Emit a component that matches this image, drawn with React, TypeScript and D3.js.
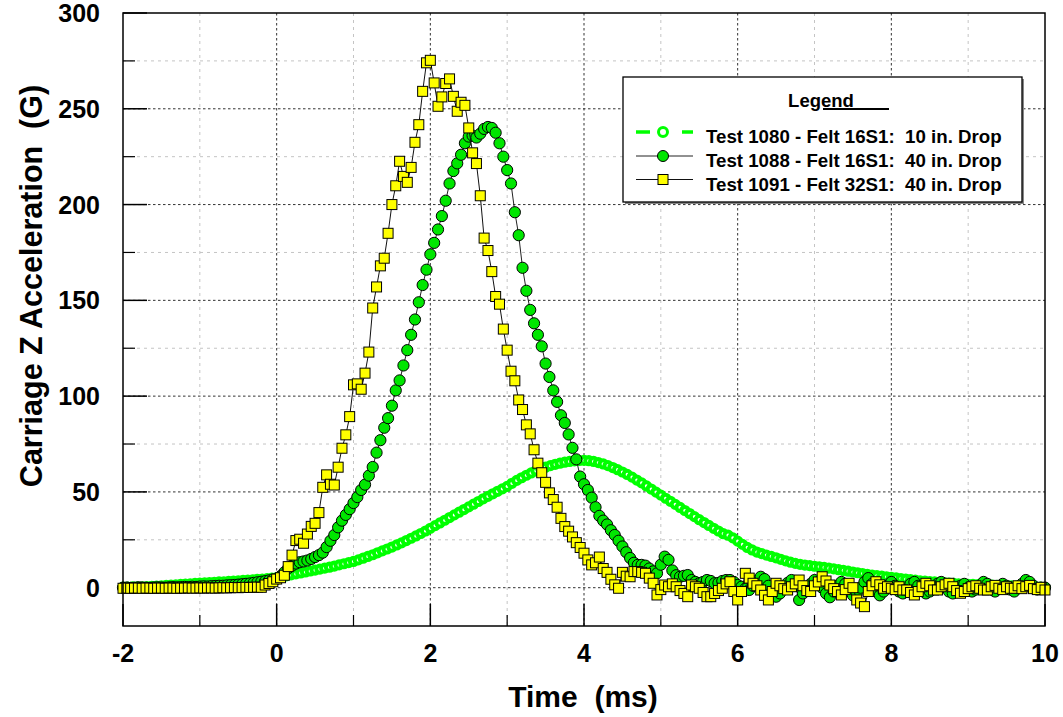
import React from 'react';
import * as d3 from 'd3';

// ---- Data ----
const xTicks = [-2, 0, 2, 4, 6, 8, 10];
const yTicks = [0, 50, 100, 150, 200, 250, 300];
const xMinorTicks = [-1, 1, 3, 5, 7, 9];
const yMinorTicks = [25, 75, 125, 175, 225, 275];

const T_START = -2;
const DT_1080 = 0.0625; // ms per sample, Test 1080
const DT_40IN = 0.05; // ms per sample, Tests 1088 / 1091

const labels = [
  'Test 1080 - Felt 16S1:  10 in. Drop',
  'Test 1088 - Felt 16S1:  40 in. Drop',
  'Test 1091 - Felt 32S1:  40 in. Drop',
];

const test1080 = [
  0.3, 0.3, 0.4, 0.4, 0.5, 0.6, 0.7, 0.8, 1.0, 1.2, 1.3, 1.5, 1.7, 1.9, 2.0, 2.2, 2.4,
  2.5, 2.7, 2.8, 3.0, 3.1, 3.3, 3.4, 3.6, 3.8, 3.9, 4.1, 4.3, 4.5, 4.7, 5.0, 5.3,
  5.7, 6.2, 6.7, 7.2, 7.7, 8.2, 8.7, 9.2, 9.7, 10.2, 10.7, 11.3, 11.9, 12.5, 13.1, 13.7,
  14.5, 15.4, 16.3, 17.2, 18.2, 19.2, 20.2, 21.2, 22.3, 23.4, 24.6, 25.8, 27.0, 28.3, 29.6, 31.0,
  32.4, 33.8, 35.2, 36.6, 38.0, 39.4, 40.8, 42.2, 43.6, 45.0, 46.4, 47.7, 49.0, 50.3, 51.6, 52.9,
  54.5, 56.0, 57.4, 58.7, 59.9, 61.0, 62.0, 62.9, 63.7, 64.4, 65.0, 65.5, 65.9, 66.2, 66.4, 66.5,
  66.3, 65.9, 65.3, 64.6, 63.7, 62.7, 61.6, 60.4, 59.1, 57.7, 56.2, 54.7, 53.1, 51.5, 49.9, 48.3,
  46.7, 45.1, 43.5, 41.9, 40.3, 38.7, 37.1, 35.5, 34.0, 32.5, 31.0, 29.6, 28.2, 27.4, 26.0, 24.3,
  22.6, 21.0, 19.7, 18.6, 17.8, 17.0, 16.3, 15.6, 14.8, 14.0, 13.3, 12.7, 12.2, 11.8, 11.5, 11.2,
  10.9, 10.6, 10.2, 9.8, 9.4, 9.0, 8.6, 8.2, 7.8, 7.4, 7.0, 6.6, 6.3, 6.0, 5.7, 5.4,
  5.1, 4.8, 4.5, 4.2, 3.9, 3.6, 3.4, 3.2, 3.0, 2.8, 2.6, 2.4, 2.2, 2.0, 1.9, 1.8,
  1.7, 1.6, 1.5, 1.4, 1.3, 1.2, 1.1, 1.0, 0.9, 0.8, 0.7, 0.6, 0.5, 0.4, 0.3, 0.2,
];

const test1088 = [
  0.0, 0.1, -0.1, 0.0, 0.2, 0.1, 0.0, -0.1, 0.1, 0.2, 0.1, 0.0, 0.2, 0.3, 0.2, 0.3, 0.4, 0.3, 0.5, 0.4,
  0.6, 0.7, 0.6, 0.8, 0.9, 1.0, 1.0, 1.2, 1.3, 1.4,
  1.6, 1.8, 2.0, 2.2, 2.5, 2.8, 3.1, 3.4, 3.8, 4.2,
  4.6, 6.0, 8.0, 10.2, 11.5, 12.6, 13.3, 13.7, 14.2, 15.0, 16.0, 17.0, 18.3, 21.2, 24.5, 27.5, 31.5,
  35.0, 38.0, 41.0, 44.2, 47.3, 51.0, 53.8, 58.5, 63.0, 70.5, 77.0, 83.5, 88.5, 95.0, 103.0, 108.2,
  116, 124, 132, 140, 149, 158, 166, 174, 180, 187, 194, 202, 211, 217.5, 221.5, 226, 232, 235.5,
  236, 235, 237, 239.5, 240.5, 240, 237.5, 232, 225, 218,
  211, 196, 184, 167, 155, 145, 138, 132, 126, 117, 110, 103, 97, 90, 86, 80, 73, 67, 58, 54,
  51, 47, 42, 37.5, 35, 33, 30, 27.5, 24.5, 21.5, 18.5, 15.5, 13, 11.9, 11.9, 11.5, 10, 8.5, 7.5, 12,
  16.2, 14.5, 9, 6.5, 5.7, 6.2, 6.6, 4, 3, 2.3, 3, 4, 3.5, 2.3, 2.5, 3.5, 4, 4, 3, 1.4,
  0.5, -0.5, -1.2, 1, 3.5, 5.7, 4.5, 1, -2, -4.7, -3, 0, 2.5, 4, 1, -6.4, -3,
  -1, 2, 4, 3, 0, -3, -5, -2, 1, 3, 2, -1, -4, -3, 0, 3, 5, 2, -2, -4,
  -2, 1, 3, 1, -2, -3, -1, 2, 3, 1, -1, -3, -2, 0, 2, 3, 1, -2, -3, -1,
  1, 2, 0, -2, -1, 1, 3, 2, -1, -2, 0, 2, 1, -1, -2, 0, 2, 4, 3, 1,
  -1, 0, 0,
];

const test1091 = [
  -0.3, -0.2, -0.3, -0.2, -0.2, -0.3, -0.2, -0.2, -0.3, -0.2,
  -0.2, -0.3, -0.2, -0.2, -0.3, -0.2, -0.2, -0.1, -0.2, -0.2,
  -0.1, -0.2, -0.1, -0.1, -0.2, -0.1, 0.0, -0.1, 0.0, 0.1,
  0.0, 0.1, 0.2, 0.1, 0.2, 0.3,
  0.2, 1.4, 2.2, 3.1, 4.5, 5.2, 6.5, 11, 17, 24.6, 25.3, 23.2, 28, 32, 33.6,
  39.2, 52.4, 58.9, 54, 53.6, 62.9, 72.8, 79.8, 89.3, 105.9, 106.4, 103.6, 112, 123, 146,
  157, 168, 172, 185, 200, 209.8, 222.6, 214.7, 211.6, 219.4, 232.5, 241.7, 259.1, 274, 275.3,
  263.5, 251.3, 256.2, 263.2, 265.6, 256.5, 248.7, 253.4, 251.8, 240, 227, 221.4, 204.6, 182.5,
  176, 165, 152, 148, 135, 124, 113, 108, 98, 93, 85, 80.3, 72, 65, 60, 55, 49.5, 46, 42, 36.2,
  31.9, 29.5, 26.5, 23.5, 21, 18, 14.5, 11.9, 13, 16, 10, 8, 4.4, 1.5, -0.3, 8, 6, 5.7, 8.4, 8.4,
  8, 7.5, 5, 2.3, -3.8, -1,
  1.4, 0.5, 2, 0.5, -1.5, -3, -4.7, 1.4, 0.5, -0.3,
  -2.5, -4.7, -4.7, -3, -1.5, -0.3, 2, 3.1, -2, -6.4,
  -2, 7.5, 5, 2.3, 1, -1.2, -4, -6.4, -2, 2.3,
  1, -0.5, -1.2, 0.5, 2, 4, 1, -1.5, -2, 1,
  3, 5.7, 3.5, 1.4, -0.5, -2, -3.8, -1, 2.3, 0,
  -6.4, -8, -9.9, -2, 1, 3.1, 1.5, -0.3, 0.5, -0.3,
  -1, 0.5, -1.2, -1.2, -2.5, -3.8, -2, 0.5, 2.3, 1,
  -1.2, -1.2, 0.5, 1.5, 2.3, 0.5, -1.5, -2.9, -2, -0.5,
  0.5, 1, -0.3, -1.2, -1.2, 0.5, 1.2, -0.3, -1, 0.5,
  -0.3, -0.3, 1, -0.5, 0.5, 1.2, -0.5, -1, 0.2, -1.2,
];

type Pt = { t: number; v: number };
const toPts = (vals: number[], dt: number): Pt[] =>
  vals.map((v, i) => ({ t: T_START + i * dt, v }));

const FONT = '"Liberation Sans", Arial, Helvetica, sans-serif';

export default function App() {
  const W = 1063;
  const H = 717;
  const L = 123, R = 1045, T = 13, B = 626;
  const x = d3.scaleLinear().domain([-2, 10]).range([L, R]);
  const y = d3.scaleLinear().domain([-20, 300]).range([B, T]);

  const p1080 = toPts(test1080, DT_1080);
  const p1088 = toPts(test1088, DT_40IN);
  const p1091 = toPts(test1091, DT_40IN);

  const line = d3
    .line<Pt>()
    .x((d) => x(d.t))
    .y((d) => y(d.v));

  const darkGrid = { stroke: '#333', strokeWidth: 1, strokeDasharray: '2.5,2.5' };
  const lightGrid = { stroke: '#c4c4c4', strokeWidth: 1, strokeDasharray: '3,4' };

  const majorXGrid = xTicks.filter((v) => v > -2 && v < 10);
  const majorYGrid = yTicks.filter((v) => v < 300);

  // legend geometry
  const lgX0 = 623, lgY0 = 77, lgX1 = 1022, lgY1 = 202;
  const rowY = [132, 156, 179.5];
  const sx0 = 636, sx1 = 693, smx = 663, tx = 706;

  return (
    <svg
      width={W}
      height={H}
      style={{ position: 'absolute', left: 0, top: 0, background: '#fff' }}
      fontFamily={FONT}
    >
      <rect x={0} y={0} width={W} height={H} fill="#fff" />
      {/* grid */}
      {xMinorTicks.map((v) => (
        <line key={'gx' + v} x1={x(v)} x2={x(v)} y1={T} y2={B} {...lightGrid} />
      ))}
      {yMinorTicks.map((v) => (
        <line key={'gy' + v} x1={L} x2={R} y1={y(v)} y2={y(v)} {...lightGrid} />
      ))}
      {majorXGrid.map((v) => (
        <line key={'GX' + v} x1={x(v)} x2={x(v)} y1={T} y2={B} {...darkGrid} />
      ))}
      {majorYGrid.map((v) => (
        <line key={'GY' + v} x1={L} x2={R} y1={y(v)} y2={y(v)} {...darkGrid} />
      ))}

      {/* ticks */}
      {yTicks.map((v) => (
        <line key={'ty' + v} x1={L} x2={L + 24} y1={y(v)} y2={y(v)} stroke="#000" strokeWidth={1.5} />
      ))}
      {yMinorTicks.map((v) => (
        <line key={'tym' + v} x1={L} x2={L + 12} y1={y(v)} y2={y(v)} stroke="#000" strokeWidth={1.2} />
      ))}
      {xTicks.map((v) => (
        <line key={'tx' + v} x1={x(v)} x2={x(v)} y1={B} y2={B - 22} stroke="#000" strokeWidth={1.5} />
      ))}
      {xMinorTicks.map((v) => (
        <line key={'txm' + v} x1={x(v)} x2={x(v)} y1={B} y2={B - 11} stroke="#000" strokeWidth={1.2} />
      ))}

      {/* Test 1080 */}
      <path d={line(p1080) || ''} fill="none" stroke="#00ff00" strokeWidth={3.5} strokeDasharray="12,6" />
      {p1080.map((d, i) => (
        <circle key={'a' + i} cx={x(d.t)} cy={y(d.v)} r={3.6} fill="#fff" stroke="#00ff00" strokeWidth={4} />
      ))}

      {/* Test 1088 */}
      <path d={line(p1088) || ''} fill="none" stroke="#222" strokeWidth={1} />
      {p1088.map((d, i) => (
        <circle key={'b' + i} cx={x(d.t)} cy={y(d.v)} r={5.6} fill="#00e600" stroke="#000" strokeWidth={1} />
      ))}

      {/* Test 1091 */}
      <path d={line(p1091) || ''} fill="none" stroke="#111" strokeWidth={1} />
      {p1091.map((d, i) => (
        <rect
          key={'c' + i}
          x={x(d.t) - 5}
          y={y(d.v) - 5}
          width={10}
          height={10}
          fill="#ffff00"
          stroke="#000"
          strokeWidth={1}
        />
      ))}

      {/* frame */}
      <rect x={L} y={T} width={R - L} height={B - T} fill="none" stroke="#000" strokeWidth={1.5} />

      {/* tick labels */}
      {yTicks.map((v) => (
        <text
          key={'ly' + v}
          x={100}
          y={y(v) + 9}
          textAnchor="end"
          fontSize={25}
          fontWeight="bold"
        >
          {v}
        </text>
      ))}
      {xTicks.map((v) => (
        <text key={'lx' + v} x={x(v)} y={662} textAnchor="middle" fontSize={25} fontWeight="bold">
          {v}
        </text>
      ))}

      {/* axis titles */}
      <text x={583} y={707} textAnchor="middle" fontSize={30} fontWeight="bold" style={{ whiteSpace: 'pre' }}>
        {'Time  (ms)'}
      </text>
      <text
        transform="translate(42,286) rotate(-90)"
        textAnchor="middle"
        fontSize={30.5}
        fontWeight="bold"
        style={{ whiteSpace: 'pre' }}
      >
        {'Carriage Z Acceleration  (G)'}
      </text>

      {/* legend */}
      <rect x={lgX0 + 2} y={lgY0 + 2} width={lgX1 - lgX0} height={lgY1 - lgY0} fill="#888" />
      <rect x={lgX0} y={lgY0} width={lgX1 - lgX0} height={lgY1 - lgY0} fill="#fff" stroke="#000" strokeWidth={1.3} />
      <text x={821} y={107} textAnchor="middle" fontSize={18.5} fontWeight="bold">
        Legend
      </text>
      <line x1={823} x2={889} y1={109} y2={109} stroke="#000" strokeWidth={2} />

      <line x1={sx0} x2={sx1} y1={rowY[0]} y2={rowY[0]} stroke="#00ff00" strokeWidth={3.5} strokeDasharray="14,32" />
      <circle cx={smx} cy={rowY[0]} r={4.5} fill="#fff" stroke="#00ff00" strokeWidth={3} />

      <line x1={sx0} x2={sx1} y1={rowY[1]} y2={rowY[1]} stroke="#222" strokeWidth={1} />
      <circle cx={smx} cy={rowY[1]} r={5.5} fill="#00e600" stroke="#000" strokeWidth={1} />

      <line x1={sx0} x2={sx1} y1={rowY[2]} y2={rowY[2]} stroke="#111" strokeWidth={1} />
      <rect x={smx - 5} y={rowY[2] - 5} width={10} height={10} fill="#ffff00" stroke="#000" strokeWidth={1} />

      {labels.map((s, i) => (
        <text
          key={'lg' + i}
          x={tx}
          y={rowY[i] + 11}
          fontSize={18.7}
          fontWeight="bold"
          style={{ whiteSpace: 'pre' }}
        >
          {s}
        </text>
      ))}
    </svg>
  );
}
